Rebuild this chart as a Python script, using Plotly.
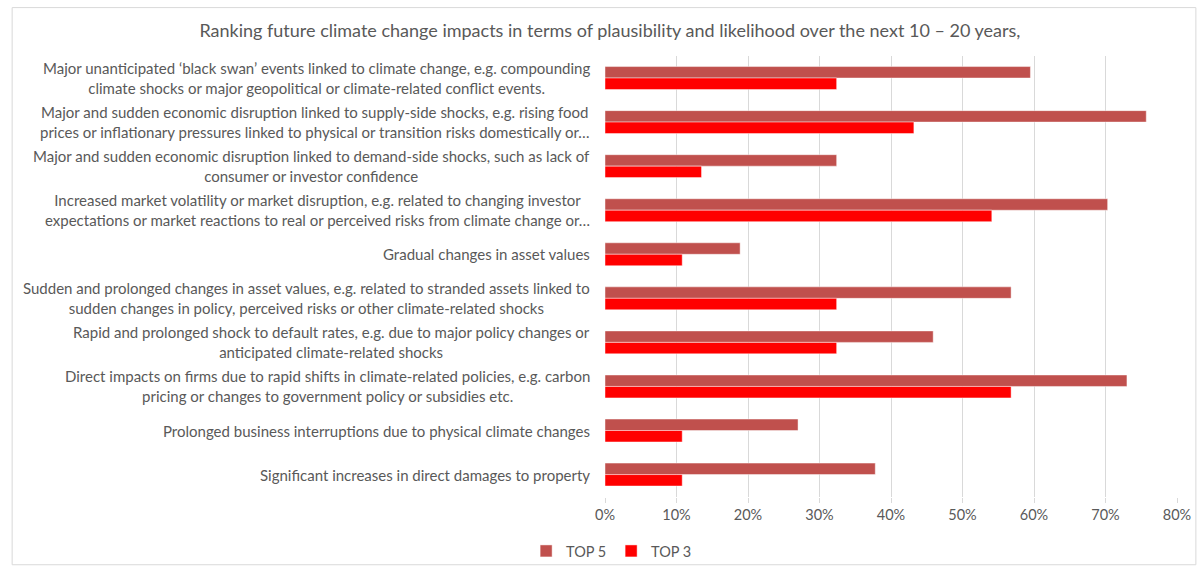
import plotly.graph_objects as go

# Impact categories, listed top to bottom
categories = [
    "Major unanticipated ‘black swan’ events linked to climate change, e.g. compounding<br>climate shocks or major geopolitical or climate-related conflict events.",
    "Major and sudden economic disruption linked to supply-side shocks, e.g. rising food<br>prices or inflationary pressures linked to physical or transition risks domestically or…",
    "Major and sudden economic disruption linked to demand-side shocks, such as lack of<br>consumer or investor confidence",
    "Increased market volatility or market disruption, e.g. related to changing investor<br>expectations or market reactions to real or perceived risks from climate change or…",
    "Gradual changes in asset values",
    "Sudden and prolonged changes in asset values, e.g. related to stranded assets linked to<br>sudden changes in policy, perceived risks or other climate-related shocks",
    "Rapid and prolonged shock to default rates, e.g. due to major policy changes or<br>anticipated climate-related shocks",
    "Direct impacts on firms due to rapid shifts in climate-related policies, e.g. carbon<br>pricing or changes to government policy or subsidies etc.",
    "Prolonged business interruptions due to physical climate changes",
    "Significant increases in direct damages to property",
]

# Share of respondents ranking each impact in their top 5 / top 3
top5 = [0.595, 0.757, 0.324, 0.703, 0.189, 0.568, 0.459, 0.730, 0.270, 0.378]
top3 = [0.324, 0.432, 0.135, 0.541, 0.108, 0.324, 0.324, 0.568, 0.108, 0.108]

x_ticks = [0, 0.1, 0.2, 0.3, 0.4, 0.5, 0.6, 0.7, 0.8]

FONT = "Lato"
GREY = "#595959"

fig = go.Figure()
fig.add_trace(go.Bar(
    y=categories, x=top5, name="TOP 5", orientation="h",
    marker=dict(color="#C0504D", line=dict(color="rgba(255,255,255,0.45)", width=1)),
))
fig.add_trace(go.Bar(
    y=categories, x=top3, name="TOP 3", orientation="h",
    marker=dict(color="#FF0000", line=dict(color="rgba(255,255,255,0.45)", width=1)),
))

# Category labels: right-aligned block, lines centred within it
for cat in categories:
    fig.add_annotation(
        x=0, xref="paper", xanchor="right", xshift=-13,
        y=cat, yref="y", yanchor="middle",
        text=cat, align="center", showarrow=False,
        font=dict(family=FONT, size=15, color=GREY),
    )

L, R, T, B = 605, 22, 56, 72
W, H = 1203, 574
pw, ph = W - L - R, H - T - B

# Outer chart border
fig.add_shape(
    type="rect", xref="paper", yref="paper",
    x0=-(L - 8) / pw, x1=1 + (R - 3) / pw,
    y0=-(B - 3) / ph, y1=1 + (T - 7) / ph,
    line=dict(color="#D9D9D9", width=1), fillcolor="rgba(0,0,0,0)", layer="below",
)

fig.update_layout(
    width=W, height=H,
    margin=dict(l=L, r=R, t=T, b=B),
    paper_bgcolor="white", plot_bgcolor="white",
    barmode="group", bargap=0.48, bargroupgap=0,
    font=dict(family=FONT, size=14.5, color=GREY),
    title=dict(
        text="Ranking future climate change impacts in terms of plausibility and likelihood over the next 10 – 20 years,",
        x=0.507, xref="container", xanchor="center",
        y=1 - 31 / H, yref="container", yanchor="middle",
        font=dict(family=FONT, size=18, color=GREY),
    ),
    xaxis=dict(
        range=[0, 0.8], tickvals=x_ticks, tickformat=".0%",
        showgrid=True, gridcolor="#D9D9D9", gridwidth=1,
        zeroline=False, showline=False,
        ticks="outside", ticklen=5, tickcolor="#D9D9D9",
        tickfont=dict(family=FONT, size=14.5, color=GREY),
    ),
    yaxis=dict(
        autorange="reversed", showticklabels=False, showgrid=False,
        zeroline=False, showline=False, ticks="",
    ),
    legend=dict(
        orientation="h", x=0.508, xref="container", xanchor="center",
        y=1 - 551 / H, yref="container", yanchor="middle",
        font=dict(family=FONT, size=14.5, color=GREY),
        bgcolor="rgba(0,0,0,0)",
        itemwidth=30, traceorder="normal",
        entrywidth=40, entrywidthmode="pixels",
    ),
    showlegend=True,
)

fig.write_html("out.html")
